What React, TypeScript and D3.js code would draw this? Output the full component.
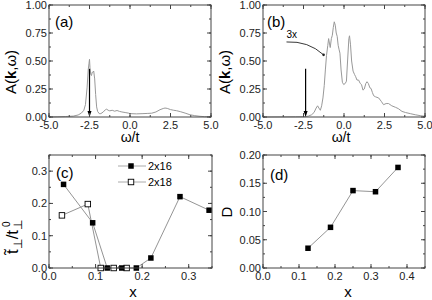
import { scaleLinear, line, range, format } from 'd3';

// panel (a): spectral function, first k
const omegaA = [-5, -4.5, -4, -3.5, -3.2, -3.0, -2.85, -2.75, -2.65, -2.58, -2.53, -2.5, -2.47, -2.42, -2.38, -2.33, -2.28, -2.24, -2.18, -2.12, -2.06, -2.0, -1.9, -1.8, -1.65, -1.52, -1.44, -1.35, -1.25, -1.1, -0.95, -0.8, -0.65, -0.5, -0.3, -0.1, 0, 0.4, 0.8, 1.1, 1.34, 1.6, 1.85, 2.05, 2.16, 2.3, 2.5, 2.7, 2.88, 3.1, 3.4, 3.7, 4.0, 4.32, 4.6, 5];
const specA = [0, 0.002, 0.004, 0.008, 0.018, 0.035, 0.06, 0.11, 0.26, 0.42, 0.48, 0.515, 0.44, 0.38, 0.37, 0.4, 0.4, 0.41, 0.34, 0.2, 0.09, 0.05, 0.03, 0.03, 0.045, 0.065, 0.07, 0.06, 0.055, 0.06, 0.052, 0.058, 0.05, 0.045, 0.04, 0.035, 0.03, 0.028, 0.03, 0.032, 0.034, 0.045, 0.065, 0.076, 0.08, 0.077, 0.066, 0.06, 0.056, 0.048, 0.035, 0.02, 0.012, 0.006, 0.003, 0.002];

// panel (b): spectral function, second k (scaled 3x)
const omegaB = [-5, -3, -2.4, -2.2, -2.0, -1.85, -1.72, -1.63, -1.55, -1.46, -1.38, -1.3, -1.22, -1.15, -1.08, -1.0, -0.95, -0.9, -0.85, -0.78, -0.72, -0.66, -0.6, -0.54, -0.48, -0.42, -0.36, -0.3, -0.25, -0.18, -0.1, -0.02, 0.08, 0.15, 0.22, 0.3, 0.34, 0.4, 0.47, 0.56, 0.65, 0.72, 0.8, 0.9, 1.0, 1.08, 1.17, 1.25, 1.35, 1.42, 1.5, 1.6, 1.67, 1.75, 1.83, 1.95, 2.14, 2.3, 2.44, 2.6, 2.75, 2.95, 3.17, 3.35, 3.58, 3.8, 4.09, 4.4, 4.7, 5.0];
const specB = [0, 0.002, 0.003, 0.008, 0.02, 0.04, 0.08, 0.1, 0.08, 0.06, 0.1, 0.17, 0.28, 0.42, 0.55, 0.64, 0.7, 0.66, 0.62, 0.7, 0.73, 0.8, 0.85, 0.82, 0.75, 0.72, 0.64, 0.6, 0.57, 0.42, 0.31, 0.29, 0.3, 0.32, 0.5, 0.7, 0.725, 0.65, 0.5, 0.41, 0.38, 0.36, 0.33, 0.33, 0.3, 0.29, 0.24, 0.25, 0.3, 0.315, 0.3, 0.26, 0.255, 0.22, 0.19, 0.18, 0.17, 0.14, 0.11, 0.12, 0.12, 0.1, 0.087, 0.075, 0.05, 0.04, 0.03, 0.02, 0.012, 0.006];

const arrowOmegaA = -2.5;
const arrowOmegaB = -2.37;
const arrowTop = 0.43;

// panel (c): hopping ratio vs doping
const x2x16 = [1 / 32, 3 / 32, 4 / 32, 5 / 32, 6 / 32, 7 / 32, 9 / 32, 11 / 32];
const t2x16 = [0.259, 0.14, 0, 0, 0, 0.031, 0.221, 0.179];
const x2x18 = [1 / 36, 3 / 36, 4 / 36, 5 / 36, 6 / 36];
const t2x18 = [0.163, 0.198, 0, 0, 0];
const legendNames = ['2x16', '2x18'];

// panel (d)
const xD = [0.125, 0.1875, 0.25, 0.3125, 0.375];
const valD = [0.035, 0.072, 0.137, 0.135, 0.178];

const FONT = 'Liberation Sans, Arial, Helvetica, sans-serif';
const FRAME = '#444';
const CURVE = '#999';

const fmt = (spec) => (v) => format(spec)(v).replace('\u2212', '-');

function Frame({ x, y, xMajor, xMinor, yMajor, yMinor, xFmt, yFmt }) {
  const [x0, x1] = x.range();
  const [y0, y1] = y.range();
  const xd = x.domain();
  const yd = y.domain();
  const ticks = (d, step) => range(d[0], d[1] + step * 0.01, step);
  return (
    <g>
      {ticks(xd, xMinor).map((v, i) => (
        <g key={'xm' + i} stroke={FRAME}>
          <line x1={x(v)} x2={x(v)} y1={y0} y2={y0 - 2} />
          <line x1={x(v)} x2={x(v)} y1={y1} y2={y1 + 2} />
        </g>
      ))}
      {ticks(xd, xMajor).map((v, i) => (
        <g key={'xM' + i}>
          <line x1={x(v)} x2={x(v)} y1={y0} y2={y0 - 4} stroke={FRAME} />
          <line x1={x(v)} x2={x(v)} y1={y1} y2={y1 + 4} stroke={FRAME} />
          <text x={x(v)} y={y0 + 11.5} textAnchor="middle" fontSize={11} fontFamily={FONT} fill="#222">
            {xFmt(v)}
          </text>
        </g>
      ))}
      {ticks(yd, yMinor).map((v, i) => (
        <g key={'ym' + i} stroke={FRAME}>
          <line x1={x0} x2={x0 + 2} y1={y(v)} y2={y(v)} />
          <line x1={x1} x2={x1 - 2} y1={y(v)} y2={y(v)} />
        </g>
      ))}
      {ticks(yd, yMajor).map((v, i) => (
        <g key={'yM' + i}>
          <line x1={x0} x2={x0 + 4} y1={y(v)} y2={y(v)} stroke={FRAME} />
          <line x1={x1} x2={x1 - 4} y1={y(v)} y2={y(v)} stroke={FRAME} />
          <text x={x0 - 2} y={y(v) + 4} textAnchor="end" fontSize={11} fontFamily={FONT} fill="#222">
            {yFmt(v)}
          </text>
        </g>
      ))}
      <rect x={x0} y={y1} width={x1 - x0} height={y0 - y1} fill="none" stroke={FRAME} strokeWidth={1} />
    </g>
  );
}

function Arrow({ x, y1, y2 }) {
  return (
    <g>
      <line x1={x} x2={x} y1={y1} y2={y2 - 4} stroke="#000" strokeWidth={1.2} />
      <path d={`M${x - 2},${y2 - 6} L${x + 2},${y2 - 6} L${x},${y2} Z`} fill="#000" />
    </g>
  );
}

export default function App() {
  const xa = scaleLinear().domain([-5, 5]).range([49, 211]);
  const ya = scaleLinear().domain([0, 1]).range([117, 5]);
  const xb = scaleLinear().domain([-5, 5]).range([263, 425]);
  const yb = ya;
  const xc = scaleLinear().domain([0, 0.35]).range([49, 212]);
  const yc = scaleLinear().domain([0, 0.35]).range([268, 155]);
  const xdS = scaleLinear().domain([0, 0.45]).range([263, 425]);
  const ydS = scaleLinear().domain([0, 0.2]).range([268, 155]);

  const lineA = line().x((d) => xa(d[0])).y((d) => ya(d[1]));
  const lineB = line().x((d) => xb(d[0])).y((d) => yb(d[1]));
  const lineC = line().x((d) => xc(d[0])).y((d) => yc(d[1]));
  const lineD = line().x((d) => xdS(d[0])).y((d) => ydS(d[1]));

  const ptsA = omegaA.map((w, i) => [w, specA[i]]);
  const ptsB = omegaB.map((w, i) => [w, specB[i]]);
  const pts16 = x2x16.map((v, i) => [v, t2x16[i]]);
  const pts18 = x2x18.map((v, i) => [v, t2x18[i]]);
  const ptsD = xD.map((v, i) => [v, valD[i]]);

  const f1 = fmt('.1f');
  const f2 = fmt('.2f');
  const sq = 5.5;

  return (
    <svg width={432} height={300} style={{ position: 'absolute', left: 0, top: 0, background: '#fff' }}>
      {/* (a) */}
      <path d={lineA(ptsA)} fill="none" stroke={CURVE} strokeWidth={1} />
      <Arrow x={xa(arrowOmegaA)} y1={ya(arrowTop)} y2={ya(0)} />
      <Frame x={xa} y={ya} xMajor={2.5} xMinor={1.25} yMajor={0.25} yMinor={0.125} xFmt={f1} yFmt={f2} />
      <text x={55} y={27} fontSize={15} fontFamily={FONT}>(a)</text>
      <text x={130} y={142} textAnchor="middle" fontSize={14} fontFamily={FONT}>ω/t</text>
      <text transform="translate(16,72) rotate(-90)" textAnchor="middle" fontSize={15} fontFamily={FONT}>
        A(<tspan fontWeight="bold">k</tspan>,ω)
      </text>

      {/* (b) */}
      <path d={lineB(ptsB)} fill="none" stroke={CURVE} strokeWidth={1} />
      <Arrow x={xb(arrowOmegaB)} y1={yb(arrowTop)} y2={yb(0)} />
      <text x={xb(-3.55)} y={yb(0.705)} fontSize={10} fontFamily={FONT}>3x</text>
      <path
        d={`M${xb(-3.55)},${yb(0.67)} Q${xb(-2.2)},${yb(0.68)} ${xb(-1.26)},${yb(0.555)}`}
        fill="none"
        stroke="#222"
        strokeWidth={0.9}
      />
      <circle cx={xb(-1.26)} cy={yb(0.555)} r={1.3} fill="#222" />
      <Frame x={xb} y={yb} xMajor={2.5} xMinor={1.25} yMajor={0.25} yMinor={0.125} xFmt={f1} yFmt={f2} />
      <text x={267} y={27} fontSize={15} fontFamily={FONT}>(b)</text>
      <text x={341} y={142} textAnchor="middle" fontSize={14} fontFamily={FONT}>ω/t</text>
      <text transform="translate(230,72) rotate(-90)" textAnchor="middle" fontSize={15} fontFamily={FONT}>
        A(<tspan fontWeight="bold">k</tspan>,ω)
      </text>

      {/* (c) */}
      <path d={lineC(pts18)} fill="none" stroke="#888" strokeWidth={0.9} />
      <path d={lineC(pts16)} fill="none" stroke="#888" strokeWidth={0.9} />
      {pts18.map((p, i) => (
        <rect key={'o' + i} x={xc(p[0]) - sq / 2} y={yc(p[1]) - sq / 2} width={sq} height={sq} fill="#fff" stroke="#000" strokeWidth={0.9} />
      ))}
      {pts16.map((p, i) => (
        <rect key={'f' + i} x={xc(p[0]) - sq / 2} y={yc(p[1]) - sq / 2} width={sq} height={sq} fill="#000" />
      ))}
      <Frame x={xc} y={yc} xMajor={0.1} xMinor={0.05} yMajor={0.1} yMinor={0.05} xFmt={f1} yFmt={f1} />
      {legendNames.map((name, i) => (
        <g key={name} transform={`translate(0,${166 + i * 16})`}>
          <line x1={118} x2={146} y1={0} y2={0} stroke="#aaa" strokeWidth={1} />
          {i === 0 ? (
            <rect x={131 - sq / 2} y={-sq / 2} width={sq} height={sq} fill="#000" />
          ) : (
            <rect x={131 - sq / 2} y={-sq / 2} width={sq} height={sq} fill="#fff" stroke="#000" strokeWidth={0.9} />
          )}
          <text x={148} y={4} fontSize={11} fontFamily={FONT}>{name}</text>
        </g>
      ))}
      <text x={56} y={178} fontSize={15} fontFamily={FONT}>(c)</text>
      <text x={133} y={297} textAnchor="middle" fontSize={15} fontFamily={FONT}>x</text>
      <text transform="translate(18,237) rotate(-90)" textAnchor="middle" fontSize={17} fontFamily={FONT}>
        t̃<tspan fontSize={12} dy={4}>⊥</tspan>
        <tspan dy={-4}>/t</tspan>
        <tspan fontSize={12} dy={4}>⊥</tspan>
        <tspan fontSize={10} dx={-7} dy={-12}>0</tspan>
      </text>

      {/* (d) */}
      <path d={lineD(ptsD)} fill="none" stroke="#888" strokeWidth={0.9} />
      {ptsD.map((p, i) => (
        <rect key={'d' + i} x={xdS(p[0]) - sq / 2} y={ydS(p[1]) - sq / 2} width={sq} height={sq} fill="#000" />
      ))}
      <Frame x={xdS} y={ydS} xMajor={0.1} xMinor={0.05} yMajor={0.05} yMinor={0.025} xFmt={f1} yFmt={f2} />
      <text x={270} y={180} fontSize={15} fontFamily={FONT}>(d)</text>
      <text x={348} y={297} textAnchor="middle" fontSize={15} fontFamily={FONT}>x</text>
      <text transform="translate(232,212) rotate(-90)" textAnchor="middle" fontSize={15} fontFamily={FONT}>D</text>
    </svg>
  );
}
